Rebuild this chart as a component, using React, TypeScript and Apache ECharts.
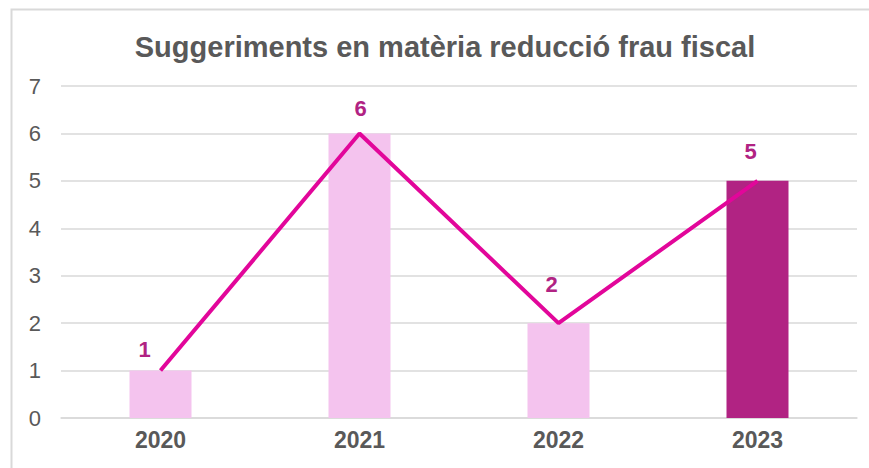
import React, { useEffect, useRef } from "react";
import * as echarts from "echarts";

const categories = ["2020", "2021", "2022", "2023"];
const barValues = [1, 6, 2, 5];
const lineValues = [1, 6, 2, 5];

const barColors = ["#F4C3EE", "#F4C3EE", "#F4C3EE", "#B12383"];
const labelOffsets = [[-16, 0], [1, -4], [-7, -18], [-7, -8]];

export default function App() {
  const ref = useRef<HTMLDivElement>(null);
  useEffect(() => {
    const chart = echarts.init(ref.current!, null, { renderer: "svg" });
    chart.setOption({
      animation: false,
      backgroundColor: "#ffffff",
      title: {
        text: "Suggeriments en matèria reducció frau fiscal",
        left: 440,
        textAlign: "center",
        top: 27,
        textStyle: {
          fontFamily: "Liberation Sans, Arial, sans-serif",
          fontSize: 29,
          fontWeight: "bold",
          color: "#595959",
        },
      },
      graphic: [
        {
          type: "polyline",
          shape: { points: [[11.5, 480], [11.5, 9.5], [880, 9.5]] },
          style: { stroke: "#D9D9D9", lineWidth: 2, fill: null },
        },
      ],
      grid: { left: 61, right: 12, top: 86, bottom: 50 },
      xAxis: {
        type: "category",
        data: categories,
        axisLine: { lineStyle: { color: "#D9D9D9", width: 1.5 } },
        axisTick: { show: false },
        axisLabel: {
          color: "#595959",
          fontFamily: "Liberation Sans, Arial, sans-serif",
          fontSize: 23,
          fontWeight: "bold",
          margin: 10,
        },
      },
      yAxis: {
        type: "value",
        min: 0,
        max: 7,
        interval: 1,
        axisLine: { show: false },
        axisTick: { show: false },
        splitLine: { lineStyle: { color: "#D9D9D9", width: 1.5 } },
        axisLabel: {
          color: "#595959",
          fontFamily: "Liberation Sans, Arial, sans-serif",
          fontSize: 22,
          margin: 20,
        },
      },
      series: [
        {
          type: "bar",
          data: barValues.map((v, i) => ({
            value: v,
            itemStyle: { color: barColors[i] },
            label: { offset: labelOffsets[i] },
          })),
          barWidth: 62,
          label: {
            show: true,
            position: "top",
            distance: 10,
            color: "#B12383",
            fontFamily: "Liberation Sans, Arial, sans-serif",
            fontSize: 22,
            fontWeight: "bold",
          },
        },
        {
          type: "line",
          data: lineValues,
          symbol: "none",
          lineStyle: { color: "#E2069A", width: 4 },
        },
      ],
    });
    return () => chart.dispose();
  }, []);
  return (
    <div
      ref={ref}
      style={{ position: "fixed", left: 0, top: 0, width: 869, height: 468 }}
    />
  );
}
